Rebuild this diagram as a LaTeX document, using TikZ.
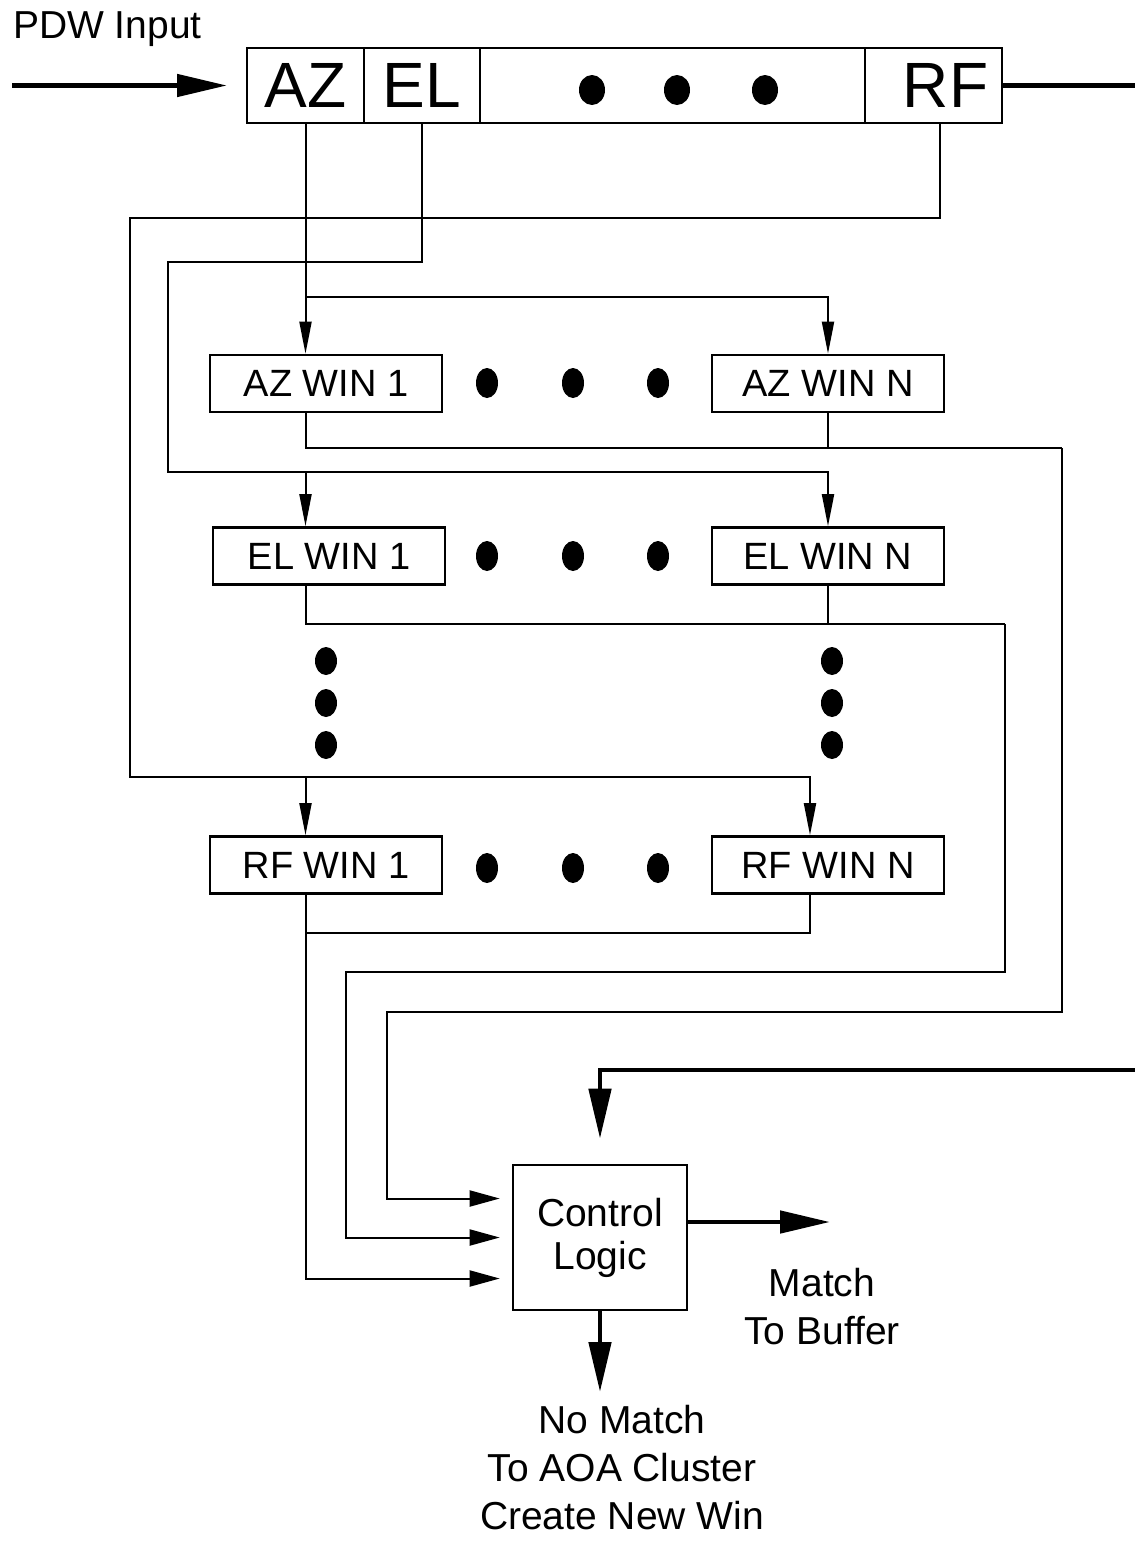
\documentclass[tikz,border=0pt]{standalone}
\usepackage{fontspec}
\setmainfont{Liberation Sans}
\usetikzlibrary{arrows.meta,positioning,calc}

\tikzset{
  cellbox/.style={draw, line width=1.3pt, outer sep=0pt, minimum height=37.5pt, inner sep=0pt, font=\fontsize{32}{38}\selectfont},
  winbox/.style={draw, line width=1.3pt, minimum width=116pt, minimum height=28.5pt, inner sep=0pt, font=\fontsize{19}{23}\selectfont},
  txt/.style={font=\fontsize{19.5}{24}\selectfont, align=center},
  wire/.style={line width=1pt},
  wirearrow/.style={wire, -{Triangle[length=16pt,width=6pt]}},
  inarrow/.style={wire, -{Triangle[length=15pt,width=8pt]}, shorten >=6pt},
  feedarrow/.style={line width=2.4pt, -{Triangle[length=25pt,width=11pt]}},
}

\begin{document}
\begin{tikzpicture}[x=0.5pt, y=-0.5pt]
\useasboundingbox (0,0) rectangle (1135,1542);

% input word
\node[txt, anchor=west] (pdwlbl) at (6,29) {PDW Input};
\node[cellbox, minimum width=58.5pt] (azcell) at (305.5,85.5) {AZ};
\node[cellbox, minimum width=58pt, right=0pt of azcell] (elcell) {EL};
\node[cellbox, minimum width=192.5pt, right=0pt of elcell] (dotcell) {};
\node[cellbox, minimum width=68.5pt, right=0pt of dotcell] (rfcell) {\hspace*{12pt}RF};
\foreach \x in {592,677,765} \fill (\x,90) ellipse (6.5pt and 7.5pt);

% window banks
\node[winbox] (azwin1) at (326,383.5) {AZ WIN 1};
\node[winbox] (azwinN) at (828,383.5) {AZ WIN N};
\node[winbox] (elwin1) at (329,556) {EL WIN 1};
\node[winbox] (elwinN) at (828,556) {EL WIN N};
\node[winbox] (rfwin1) at (326,865) {RF WIN 1};
\node[winbox] (rfwinN) at (828,865) {RF WIN N};
\foreach \x in {487,573,658} {
  \fill (\x,383) ellipse (5.5pt and 7.5pt);
  \fill (\x,556) ellipse (5.5pt and 7.5pt);
  \fill (\x,868) ellipse (5.5pt and 7.5pt);
}
\foreach \y in {661,703,745} {
  \fill (326,\y) ellipse (5.5pt and 7pt);
  \fill (832,\y) ellipse (5.5pt and 7pt);
}

\node[draw, line width=1.3pt, minimum width=87pt, minimum height=72.5pt, txt, font=\fontsize{19.5}{21.5}\selectfont] (ctrl) at (600,1237.5) {Control\\Logic};
\node[txt] (matchlbl) at (822,1307) {Match\\To Buffer};
\node[txt] (nomatchlbl) at (622,1468) {No Match\\To AOA Cluster\\Create New Win};

% bends
\coordinate (pdwstart) at (12,85.5);
\coordinate (rfexit) at (1135,85.5);
\coordinate (fbentry) at (1135,1070);
\coordinate (azsplit) at (305.5,297);
\coordinate (elleft) at (168,262);
\coordinate (elrow) at (305.5,472);
\coordinate (rfleft) at (130,218);
\coordinate (rfrow) at (305.5,777);
\coordinate (azout) at (1062,448);
\coordinate (azret) at (387,1012);
\coordinate (elout) at (1005,624);
\coordinate (elret) at (346,972);
\coordinate (rfout) at (305.5,933);
\coordinate (matchend) at (830,1222);
\coordinate (nomatchend) at (600,1392);

\draw[feedarrow, shorten >=10pt] (pdwstart) -- (azcell.west);
\draw[line width=2.4pt] (rfcell.east) -- (rfexit);
\draw[feedarrow, shorten >=12.5pt] (fbentry) -| (ctrl.north);

% feeds to windows
\draw[wirearrow] (azcell.south) -- (azcell.south |- azwin1.north);
\draw[wirearrow] (azsplit) -| (azwinN.north);
\draw[wirearrow] (elcell.south) |- (elleft) |- (elrow) -| (elwinN.north);
\draw[wirearrow] (elrow) -- (elrow |- elwin1.north);
\draw[wirearrow] ($(rfcell.south)+(6,0)$) |- (rfleft) |- (rfrow) -| ($(rfwinN.north)+(-18,0)$);
\draw[wirearrow] (rfrow) -- (rfrow |- rfwin1.north);

% window outputs
\draw[wire] (azwin1.south -| azsplit) |- (azout);
\draw[wire] (azwinN.south) -- (azwinN.south |- azout);
\draw[inarrow] (azout) |- (azret) |- ($(ctrl.west)+(0,-39)$);
\draw[wire] (elwin1.south -| elrow) |- (elout);
\draw[wire] (elwinN.south) -- (elwinN.south |- elout);
\draw[inarrow] (elout) |- (elret) |- (ctrl.west);
\draw[wire] ($(rfwinN.south)+(-18,0)$) |- (rfout);
\draw[inarrow] (rfwin1.south -| rfrow) |- ($(ctrl.west)+(0,41)$);

\draw[feedarrow] (ctrl.east |- matchend) -- (matchend);
\draw[feedarrow] (ctrl.south) -- (nomatchend);
\end{tikzpicture}
\end{document}
